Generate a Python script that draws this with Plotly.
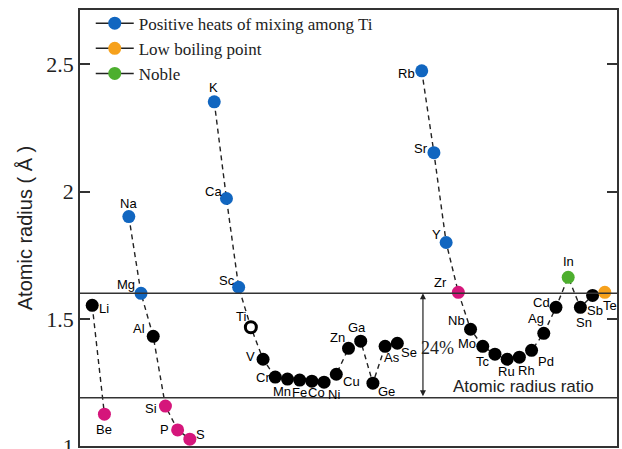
import plotly.graph_objects as go

# ---- data ----
elements = ["Li", "Be", "Na", "Mg", "Al", "Si", "P", "S",
            "K", "Ca", "Sc", "Ti", "V", "Cr", "Mn", "Fe", "Co", "Ni", "Cu", "Zn", "Ga", "Ge", "As", "Se",
            "Rb", "Sr", "Y", "Zr", "Nb", "Mo", "Tc", "Ru", "Rh", "Pd", "Ag", "Cd", "In", "Sn", "Sb", "Te"]
positions = [0, 1, 3, 4, 5, 6, 7, 8,
             10, 11, 12, 13, 14, 15, 16, 17, 18, 19, 20, 21, 22, 23, 24, 25,
             27, 28, 29, 30, 31, 32, 33, 34, 35, 36, 37, 38, 39, 40, 41, 42]
radius = [1.553, 1.125, 1.902, 1.600, 1.431, 1.157, 1.063, 1.027,
          2.353, 1.973, 1.624, 1.467, 1.341, 1.271, 1.263, 1.259, 1.255, 1.251, 1.282, 1.384, 1.412, 1.247, 1.392, 1.404,
          2.475, 2.153, 1.800, 1.604, 1.459, 1.392, 1.361, 1.341, 1.349, 1.376, 1.443, 1.545, 1.663, 1.545, 1.592, 1.604]
category = ["other", "low_ratio", "positive", "positive", "other", "low_ratio", "low_ratio", "low_ratio",
            "positive", "positive", "positive", "ti", "other", "other", "other", "other", "other", "other", "other", "other", "other", "other", "other", "other",
            "positive", "positive", "positive", "low_ratio", "other", "other", "other", "other", "other", "other", "other", "other", "noble", "other", "other", "boiling"]
series_groups = [["Li", "Be"], ["Na", "Mg", "Al", "Si", "P", "S"],
                 ["K", "Ca", "Sc", "Ti", "V", "Cr", "Mn", "Fe", "Co", "Ni", "Cu", "Zn", "Ga", "Ge", "As", "Se"],
                 ["Rb", "Sr", "Y", "Zr", "Nb", "Mo", "Tc", "Ru", "Rh", "Pd", "Ag", "Cd", "In", "Sn", "Sb", "Te"]]
upper_line = 1.6
lower_line = 1.19
ratio_label = "24%"
tick_values = [1, 1.5, 2, 2.5]
tick_labels = ["1", "1.5", "2", "2.5"]
legend_names = {"positive": "Positive heats of mixing among Ti",
                "boiling": "Low boiling point",
                "noble": "Noble"}

# ---- styles ----
colors = {"positive": "#1166c0", "boiling": "#f6a11c", "noble": "#4daf2e",
          "low_ratio": "#d5167b", "other": "#000000", "ti": "#ffffff"}
label_offsets = {  # (dx, dy) in px, dy positive = down
    "Li": (12, 3), "Be": (0, 15), "Na": (0, -13), "Mg": (-15, -9), "Al": (-14, -8),
    "Si": (-14, 2), "P": (-13, 0), "S": (11, -5), "K": (-1, -14), "Ca": (-13, -7),
    "Sc": (-12, -7), "Ti": (-10, -11), "V": (-13, -3), "Cr": (-12, 0), "Mn": (-5, 12),
    "Fe": (0, 12), "Co": (5, 11), "Ni": (10, 12), "Cu": (15, 7), "Zn": (-11, -11),
    "Ga": (-4, -14), "Ge": (14, 8), "As": (7, 11), "Se": (12, 9), "Rb": (-15, 3),
    "Sr": (-13, -4), "Y": (-10, -8), "Zr": (-18, -10), "Nb": (-14, -9), "Mo": (-16, -3),
    "Tc": (-12, 7), "Ru": (-1, 12), "Rh": (7, 13), "Pd": (14, 11), "Ag": (-8, -15),
    "Cd": (-14, -5), "In": (0, -16), "Sn": (4, 15), "Sb": (2, 15), "Te": (5, 13)}
serif = "Liberation Serif, Times New Roman"
sans = "Liberation Sans, Arial"

pos_of = dict(zip(elements, positions))
rad_of = dict(zip(elements, radius))

fig = go.Figure()

# dashed connecting lines
lx, ly = [], []
for g in series_groups:
    lx += [pos_of[e] for e in g] + [None]
    ly += [rad_of[e] for e in g] + [None]
fig.add_trace(go.Scatter(x=lx, y=ly, mode="lines", showlegend=False, hoverinfo="skip",
                         line=dict(color="#222", width=1.4, dash="5px,4px")))

# markers per category
for cat in ["other", "low_ratio", "positive", "boiling", "noble"]:
    xs = [p for p, c in zip(positions, category) if c == cat]
    ys = [r for r, c in zip(radius, category) if c == cat]
    fig.add_trace(go.Scatter(x=xs, y=ys, mode="markers", showlegend=False, cliponaxis=False,
                             marker=dict(color=colors[cat], size=13, line=dict(width=0))))
# Ti open circle
xs = [p for p, c in zip(positions, category) if c == "ti"]
ys = [r for r, c in zip(radius, category) if c == "ti"]
fig.add_trace(go.Scatter(x=xs, y=ys, mode="markers", showlegend=False,
                         marker=dict(color="white", size=11, line=dict(width=3, color="black"))))

# legend entries
for cat in ["positive", "boiling", "noble"]:
    fig.add_trace(go.Scatter(x=[None], y=[None], mode="lines+markers", name=legend_names[cat],
                             line=dict(color="#222", width=1.5),
                             marker=dict(color=colors[cat], size=13)))

# element labels
for e, p, r in zip(elements, positions, radius):
    dx, dy = label_offsets[e]
    fig.add_annotation(x=p, y=r, text=e, showarrow=False, xshift=dx, yshift=-dy,
                       font=dict(family=sans, size=13, color="black"))

# horizontal threshold lines
for yv in [upper_line, lower_line]:
    fig.add_shape(type="line", xref="paper", x0=0, x1=1, yref="y", y0=yv, y1=yv,
                  line=dict(color="#333", width=1.5))

# double arrow
fig.add_annotation(x=27.1, y=upper_line, ax=27.1, ay=lower_line, xref="x", yref="y",
                   axref="x", ayref="y", showarrow=True, arrowhead=2, arrowsize=1,
                   arrowwidth=1.2, arrowcolor="#222", text="", startarrowhead=2,
                   arrowside="end+start")
fig.add_annotation(x=27.1, y=(upper_line + lower_line) / 2 - 0.01, text=ratio_label, showarrow=False,
                   xshift=15, font=dict(family=serif, size=18, color="#222"))
fig.add_annotation(x=35.3, y=lower_line, text="Atomic radius ratio", showarrow=False, yshift=11,
                   font=dict(family=sans, size=17, color="#222"))

fig.update_layout(
    width=622, height=449,
    margin=dict(l=80, r=5, t=10, b=3),
    paper_bgcolor="white", plot_bgcolor="white",
    showlegend=True,
    legend=dict(x=0.02, y=1.01, xanchor="left", yanchor="top", bgcolor="rgba(0,0,0,0)",
                font=dict(family=serif, size=17, color="#222"),
                itemwidth=38, tracegroupgap=0),
    xaxis=dict(range=[-1, 43], showgrid=False, zeroline=False, showticklabels=False, ticks="",
               showline=True, linecolor="#333", linewidth=1.5, mirror=True, automargin=False),
    yaxis=dict(range=[1, 2.714], showgrid=False, zeroline=False, automargin="left",
               tickvals=tick_values, ticktext=tick_labels, ticklabeloverflow="allow",
               ticks="inside", ticklen=10, tickwidth=1.5, tickcolor="#333",
               showline=True, linecolor="#333", linewidth=1.5, mirror="ticks",
               tickfont=dict(family=serif, size=22, color="#222"),
               title=dict(text="Atomic radius ( Å )", standoff=8,
                          font=dict(family=sans, size=20, color="#222"))),
)

fig.write_html("out.html", config={"displayModeBar": False},
               post_script="document.body.style.margin='0';document.body.style.overflow='hidden';")
